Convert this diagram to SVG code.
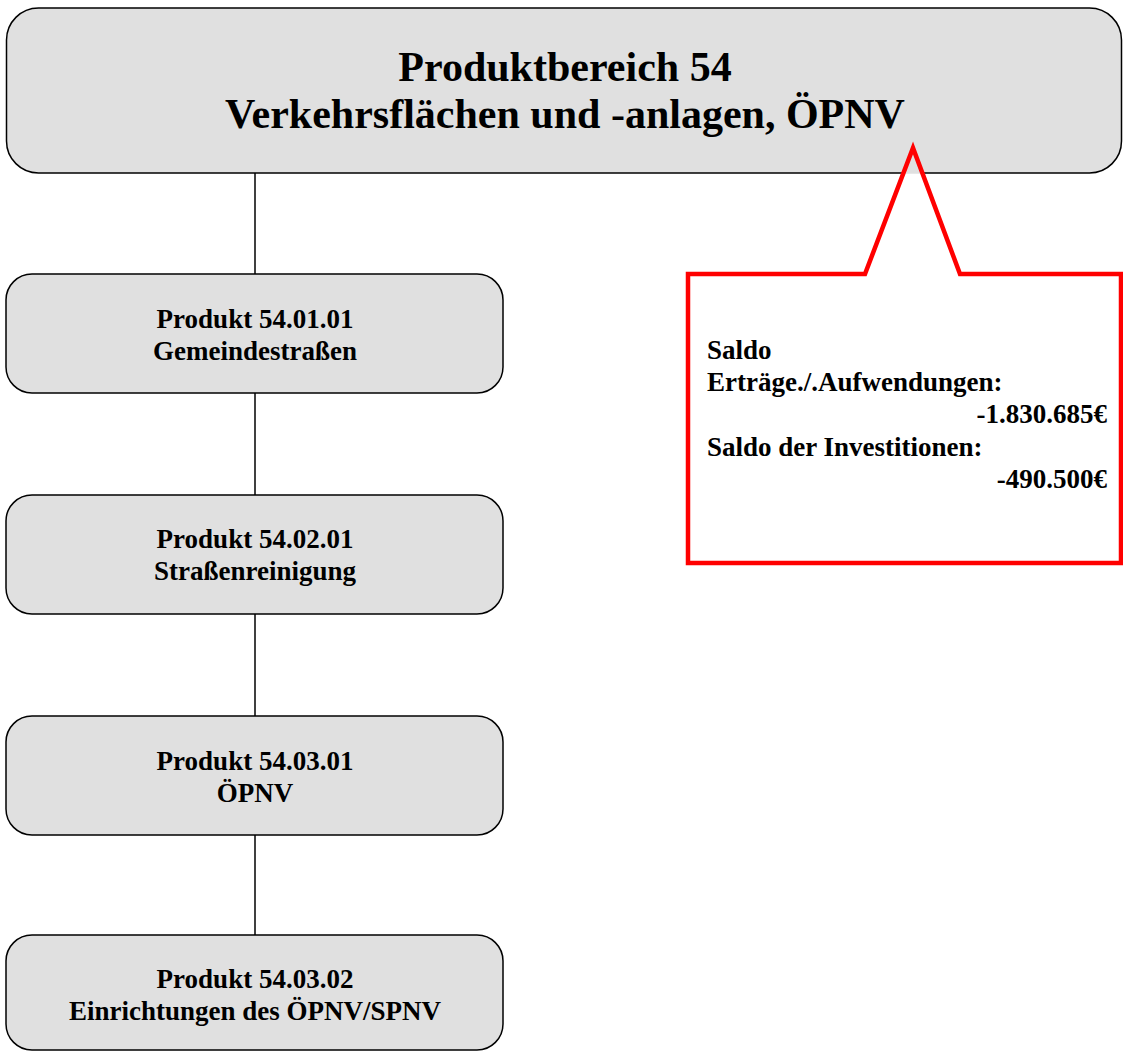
<svg xmlns="http://www.w3.org/2000/svg" width="1123" height="1052" viewBox="0 0 1123 1052">
<style>
.box{fill:#e0e0e0;stroke:#000;stroke-width:1.5}
.t{font-family:"Liberation Serif","Times New Roman",serif;font-weight:bold;fill:#000}
.c{text-anchor:middle}
.p{font-size:27px}
.conn{stroke:#000;stroke-width:1.5;fill:none}
</style>
<rect width="1123" height="1052" fill="#fff"/>
<g id="connectors">
<line class="conn" x1="255" y1="173" x2="255" y2="274"/>
<line class="conn" x1="255" y1="393" x2="255" y2="495"/>
<line class="conn" x1="255" y1="614" x2="255" y2="716"/>
<line class="conn" x1="255" y1="835" x2="255" y2="935"/>
</g>
<g id="top">
<rect class="box" x="6.5" y="8" width="1115" height="165" rx="32" ry="32"/>
<text class="t c" x="565" y="81" font-size="42">Produktbereich 54</text>
<text class="t c" x="565" y="128" font-size="42">Verkehrsflächen und -anlagen, ÖPNV</text>
</g>
<g id="p1">
<rect class="box" x="6" y="274" width="497" height="119" rx="26" ry="26"/>
<text class="t c p" x="255" y="328">Produkt 54.01.01</text>
<text class="t c p" x="255" y="360">Gemeindestraßen</text>
</g>
<g id="p2">
<rect class="box" x="6" y="495" width="497" height="119" rx="26" ry="26"/>
<text class="t c p" x="255" y="548">Produkt 54.02.01</text>
<text class="t c p" x="255" y="580">Straßenreinigung</text>
</g>
<g id="p3">
<rect class="box" x="6" y="716" width="497" height="119" rx="26" ry="26"/>
<text class="t c p" x="255" y="770">Produkt 54.03.01</text>
<text class="t c p" x="255" y="802">ÖPNV</text>
</g>
<g id="p4">
<rect class="box" x="6" y="935" width="497" height="115" rx="26" ry="26"/>
<text class="t c p" x="255" y="988">Produkt 54.03.02</text>
<text class="t c p" x="255" y="1020">Einrichtungen des ÖPNV/SPNV</text>
</g>
<g id="callout">
<path d="M688,274 L865,274 L913,148 L960,274 L1121,274 L1121,563 L688,563 Z" fill="#fff" stroke="none"/>
<polygon points="913,148 903.3,173.8 922.5,173.8" fill="#e0e0e0"/>
<path d="M688,274 L865,274 L913,148 L960,274 L1121,274 L1121,563 L688,563 Z" fill="none" stroke="#ff0000" stroke-width="4.5" stroke-linejoin="miter"/>
<text class="t p" x="707" y="359">Saldo</text>
<text class="t p" x="707" y="391">Erträge./.Aufwendungen:</text>
<text class="t p" x="1107" y="423" text-anchor="end">-1.830.685€</text>
<text class="t p" x="707" y="456">Saldo der Investitionen:</text>
<text class="t p" x="1107" y="488" text-anchor="end">-490.500€</text>
</g>
</svg>
